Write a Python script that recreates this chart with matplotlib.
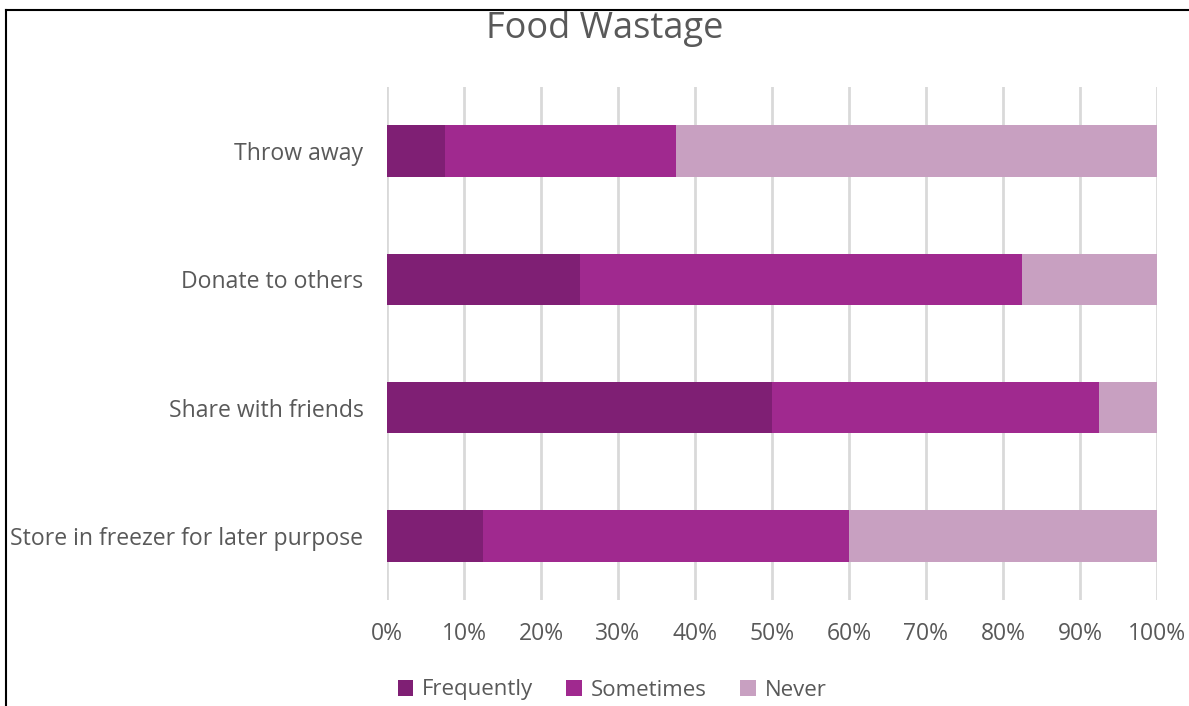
import matplotlib
matplotlib.use("Agg")
import matplotlib.pyplot as plt
from matplotlib.lines import Line2D
from matplotlib.patches import Patch
import numpy as np

categories = ["Throw away", "Donate to others", "Share with friends", "Store in freezer for later purpose"]
series_names = ["Frequently", "Sometimes", "Never"]
frequently = [7.5, 25.0, 50.0, 12.5]
sometimes = [30.0, 57.5, 42.5, 47.5]
never = [62.5, 17.5, 7.5, 40.0]
tick_vals = [0, 10, 20, 30, 40, 50, 60, 70, 80, 90, 100]
tick_labels = [f"{v}%" for v in tick_vals]
colors = ["#7F1F74", "#A0298F", "#C8A0C1"]

plt.rcParams['font.family'] = ['Open Sans', 'DejaVu Sans']
W, H = 1189, 706
fig = plt.figure(figsize=(W/100, H/100), dpi=100)
ax = fig.add_axes([387/W, 1-600/H, (1157-387)/W, (600-87)/H])

y = np.arange(len(categories))
left = np.zeros(len(categories))
for name, vals, c in zip(series_names, [frequently, sometimes, never], colors):
    ax.barh(y, vals, left=left, height=0.4, color=c, label=name, zorder=3)
    left += np.array(vals)

ax.set_xlim(0, 100)
ax.set_ylim(len(categories)-0.5, -0.5)
ax.set_xticks(tick_vals)
ax.set_xticklabels(tick_labels, fontsize=16.5, color="#595959")
ax.set_yticks(y)
ax.set_yticklabels(categories, fontsize=16.6, color="#595959")
ax.tick_params(axis='both', length=0)
ax.tick_params(axis='x', pad=16)
ax.tick_params(axis='y', pad=17)
ax.grid(axis='x', color="#D9D9D9", linewidth=2, zorder=0)
for s in ax.spines.values():
    s.set_visible(False)

fig.text(605/W, 1-29/H, "Food Wastage", ha='center', va='center', fontsize=26, color="#595959")

handles = [Patch(facecolor=c, label=n) for n, c in zip(series_names, colors)]
fig.legend(handles=handles, loc='center', bbox_to_anchor=(612/W, 1-690/H), ncol=3,
           frameon=False, fontsize=16, labelcolor="#595959", handlelength=0.7, handleheight=0.7,
           handletextpad=0.4, columnspacing=1.5)

fig.add_artist(Line2D([6/W, 1], [1-10/H, 1-10/H], color='black', linewidth=1.5, transform=fig.transFigure))
fig.add_artist(Line2D([6/W, 6/W], [0, 1-10/H], color='black', linewidth=1.5, transform=fig.transFigure))

fig.savefig("out.png", dpi=100, facecolor='white')
